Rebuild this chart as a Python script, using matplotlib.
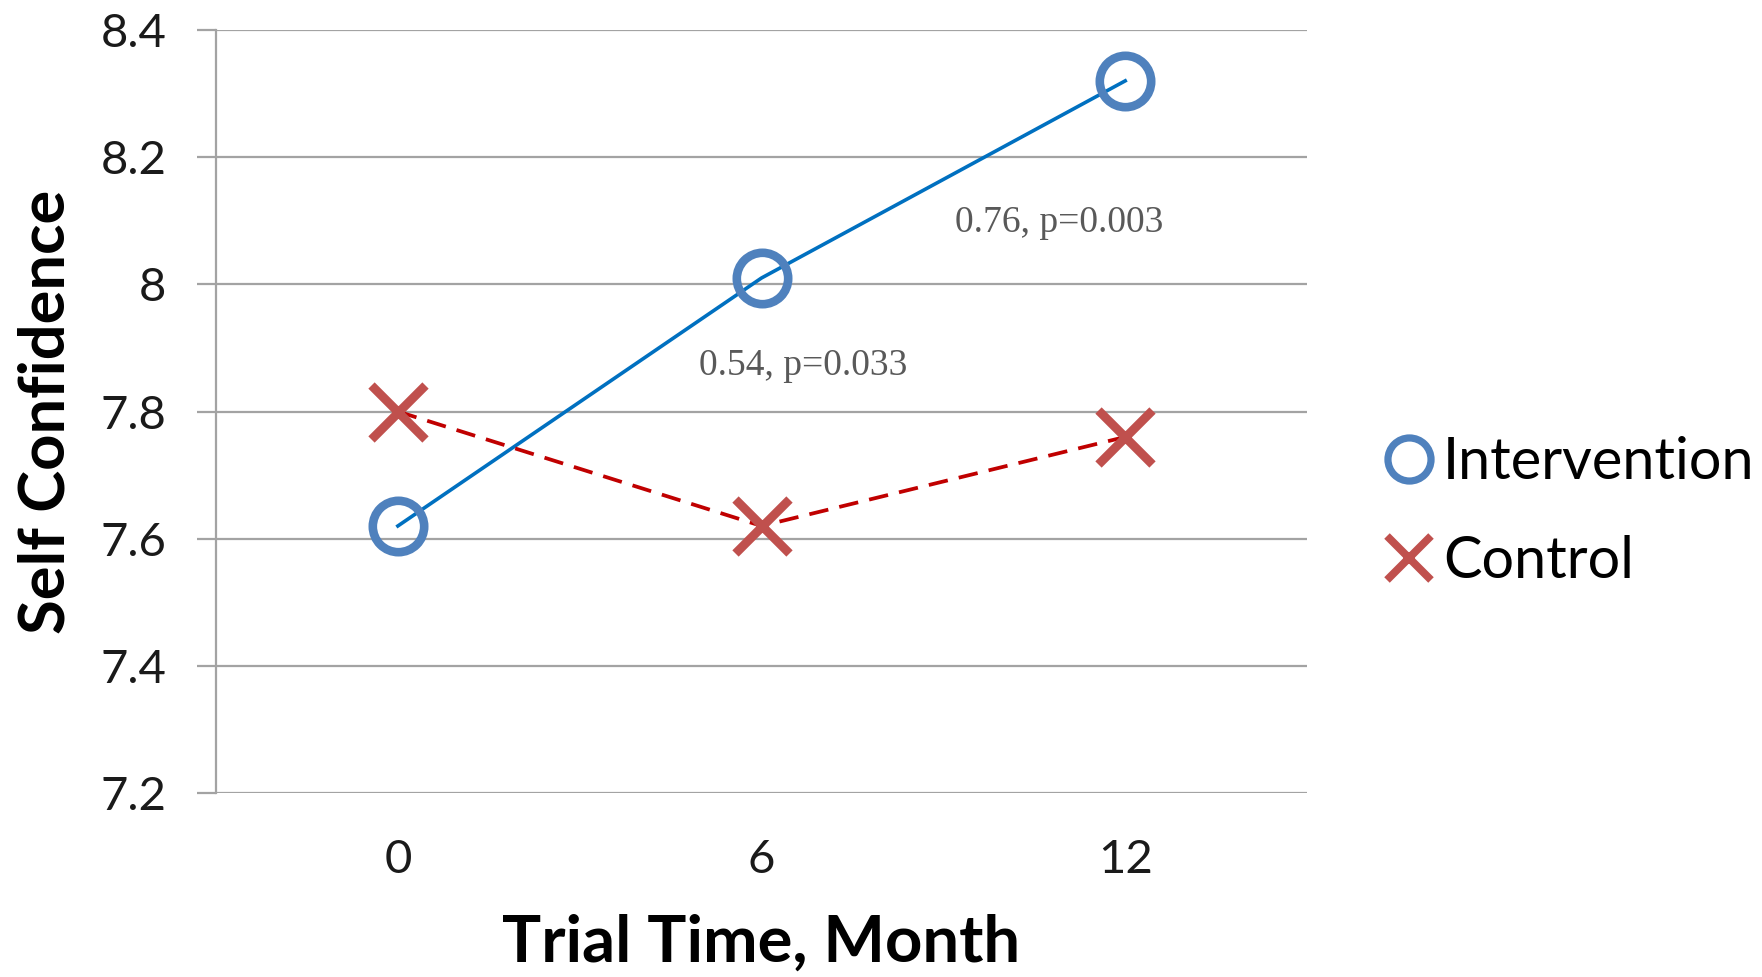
import matplotlib
matplotlib.use('Agg')
import matplotlib.pyplot as plt
from matplotlib.lines import Line2D
from matplotlib.ticker import FuncFormatter

# data
months = [0, 6, 12]
intervention = [7.62, 8.01, 8.32]
control = [7.80, 7.62, 7.76]
notes = ['0.54, p=0.033', '0.76, p=0.003']
note_x = [4.97, 9.19]
note_y = [7.872, 8.097]
y_ticks = [7.2, 7.4, 7.6, 7.8, 8.0, 8.2, 8.4]

grid_col = '#a3a3a3'
sans = 'Lato'

fig = plt.figure(figsize=(17.62, 9.77), dpi=100)
ax = fig.add_axes([0.1226, 0.1883, 0.6192, 0.781])

ax.plot(months, intervention, color='#0070c0', lw=2.6, zorder=3)
ax.plot(months, intervention, ls='none', marker='o', ms=37, mew=6.2,
        mfc='none', mec='#4f81bd', zorder=4)
ax.plot(months, control, color='#c00000', lw=2.7, ls=(0, (5.2, 3.0)), zorder=3)
ax.plot(months, control, ls='none', marker='x', ms=39, mew=6.4,
        mec='#c0504d', zorder=4)

for t, x, y in zip(notes, note_x, note_y):
    ax.text(x, y, t, ha='left', va='center', fontsize=27,
            family='Liberation Serif', color='#595959')

ax.set_xlim(-3, 15)
ax.set_ylim(7.2, 8.4)
ax.set_xticks(months)
ax.set_xticklabels([str(m) for m in months])
ax.set_yticks(y_ticks)
ax.yaxis.set_major_formatter(FuncFormatter(lambda v, p: f'{v:g}'))

ax.grid(axis='y', color=grid_col, lw=1.6)
ax.set_axisbelow(True)
for s in ['top', 'right', 'bottom']:
    ax.spines[s].set_visible(False)
ax.spines['left'].set_color(grid_col)
ax.spines['left'].set_linewidth(1.6)
ax.tick_params(axis='y', length=13.7, width=1.6, color=grid_col, pad=22,
               labelsize=34, labelcolor='#1a1a1a')
ax.tick_params(axis='x', length=0, pad=33, labelsize=34, labelcolor='#1a1a1a')
for lab in ax.get_xticklabels() + ax.get_yticklabels():
    lab.set_family(sans)

ax.set_xlabel('Trial Time, Month', fontsize=47, fontweight='bold', family=sans, va='center')
ax.xaxis.set_label_coords(0.5, -0.197)
ax.set_ylabel('Self Confidence', fontsize=45.5, fontweight='bold', family=sans, va='center')
ax.yaxis.set_label_coords(-0.155, 0.5)

handles = [
    Line2D([], [], ls='none', marker='o', ms=31, mew=5.2, mfc='none', mec='#4f81bd'),
    Line2D([], [], ls='none', marker='x', ms=31, mew=5.6, mec='#c0504d'),
]
fig.legend(handles, ['Intervention', 'Control'], loc='center left',
           bbox_to_anchor=(0.7832, 0.476), frameon=False, borderpad=0,
           borderaxespad=0, handlelength=1.0, handletextpad=0.09,
           labelspacing=0.8, prop={'family': sans, 'size': 41.5})

plt.savefig('out.png')
